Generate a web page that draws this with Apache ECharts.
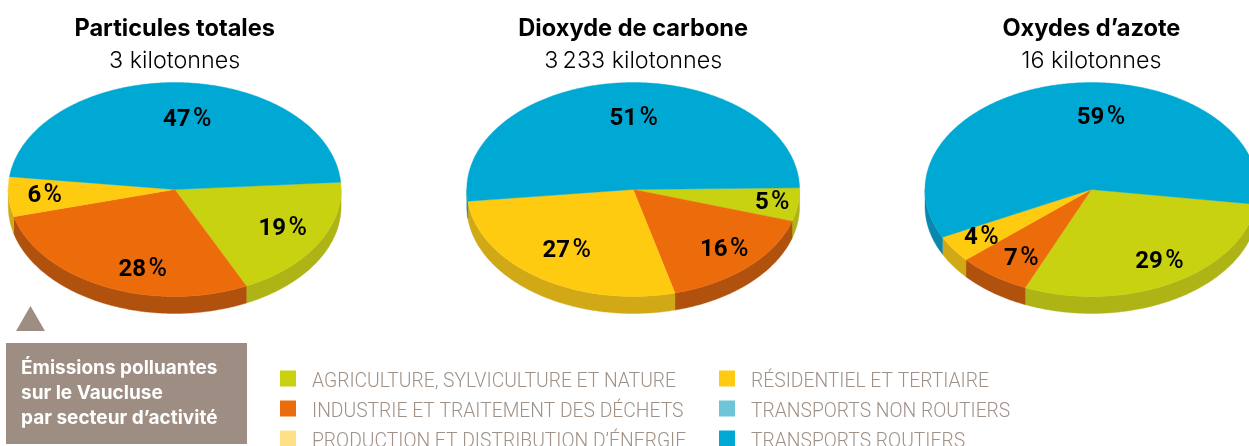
<!DOCTYPE html>
<html lang="fr">
<head>
<meta charset="utf-8">
<style>html,body{margin:0;padding:0;background:#fff}#c{width:1249px;height:446px}</style>
<script src="https://cdn.jsdelivr.net/npm/echarts@6/dist/echarts.min.js"></script>
</head>
<body>
<div id="c"></div>
<script>
// ---- data ----
const pollutants = ['Particules totales', 'Dioxyde de carbone', 'Oxydes d\u2019azote'];
const totals = ['3 kilotonnes', '3\u2009233 kilotonnes', '16 kilotonnes'];
const agriculture = [19, 5, 29];
const industrie = [28, 16, 7];
const production = [0, 0, 0];
const residentiel = [6, 27, 4];
const nonRoutiers = [0, 0, 0];
const routiers = [47, 51, 59];
const categoryNames = [
  'AGRICULTURE, SYLVICULTURE ET NATURE',
  'INDUSTRIE ET TRAITEMENT DES D\u00c9CHETS',
  'PRODUCTION ET DISTRIBUTION D\u2019\u00c9NERGIE',
  'R\u00c9SIDENTIEL ET TERTIAIRE',
  'TRANSPORTS NON ROUTIERS',
  'TRANSPORTS ROUTIERS'
];
const seriesValues = [agriculture, industrie, production, residentiel, nonRoutiers, routiers];

// ---- layout & style ----
const topColors = ['#c8d210', '#ec6b0a', '#ffdf87', '#ffcb11', '#6ec5d8', '#00a9d4'];
const sideColors = ['#aeb316', '#b0510e', '#d4b660', '#d1a815', '#5aa0b0', '#0a88ab'];
const centers = [[174.7, 189.5], [633.2, 189.5], [1091.4, 189.5]];
const startAngles = [3.9, 0.9, -8];
const RX = 166.4, RY = 107, DEPTH = 17;
const labelOffsets = [
  [[108, 39], [-32, 80], null, [-130, 6], null, [12.5, -70]],
  [[139, 13.5], [91, 60], null, [-66.5, 61.5], null, [0.5, -71]],
  [[68, 72.5], [-70, 69.5], null, [-110, 48.5], null, [9.5, -72]]
];

function pt(c, deg, dy) {
  const r = deg * Math.PI / 180;
  return [c[0] + RX * Math.cos(r), c[1] - RY * Math.sin(r) + (dy || 0)];
}
function arc(c, a0, a1, dy) {
  const n = Math.max(2, Math.ceil(Math.abs(a0 - a1) * 2));
  const out = [];
  for (let i = 0; i <= n; i++) out.push(pt(c, a0 + (a1 - a0) * i / n, dy));
  return out;
}
function makeRender(catIdx) {
  return function (params, api) {
    const p = api.value(0), v = api.value(1);
    if (!v) return { type: 'group', children: [] };
    const total = seriesValues.reduce((s, a) => s + a[p], 0);
    let before = 0;
    for (let i = 0; i < catIdx; i++) before += seriesValues[i][p];
    const a0 = startAngles[p] - before / total * 360;
    const a1 = a0 - v / total * 360;
    const c = centers[p];
    const children = [];
    for (let k = -1; k <= 1; k++) {
      const lo = -180 + 360 * k, hi = 360 * k;
      const s = Math.max(a1, lo), e = Math.min(a0, hi);
      if (e > s) {
        const pts = arc(c, e, s, 0).concat(arc(c, s, e, DEPTH));
        children.push({ type: 'polygon', z2: 1, shape: { points: pts },
          style: { fill: sideColors[catIdx], stroke: sideColors[catIdx], lineWidth: 0.4 } });
      }
    }
    children.push({ type: 'polygon', z2: 2, shape: { points: [c].concat(arc(c, a0, a1, 0)) },
      style: { fill: topColors[catIdx], stroke: topColors[catIdx], lineWidth: 0.4 } });
    const off = labelOffsets[p][catIdx];
    children.push({ type: 'text', z2: 3, x: c[0] + off[0], y: c[1] + off[1],
      style: {
        text: '{n|' + v + '}{s|\u2009}{p|%}',
        align: 'center', verticalAlign: 'middle',
        rich: {
          n: { font: 'bold 24px Roboto', fill: '#000' },
          s: { font: '500 12px Roboto', fill: '#000' },
          p: { font: '500 25px Roboto', fill: '#000' }
        }
      } });
    return { type: 'group', children };
  };
}
const legendText = {
  color: '#a09186', fontFamily: 'Roboto', fontSize: 19.3, fontWeight: 300,
  rich: { a: { color: '#a09186', fontFamily: 'Roboto', fontSize: 19.3, fontWeight: 300,
    verticalAlign: 'top', padding: [7, 0, 0, 11] } }
};
const legendCommon = { orient: 'vertical', icon: 'rect', itemWidth: 16, itemHeight: 16, itemGap: 9, height: 110,
  padding: 0, selectedMode: false, textStyle: legendText, formatter: n => '{a|' + n + '}' };

const option = {
  animation: false,
  backgroundColor: '#fff',
  title: pollutants.map((t, i) => ({
    text: t, subtext: totals[i], left: centers[i][0], top: 17, textAlign: 'center', padding: 0, itemGap: 8,
    textStyle: { fontFamily: 'Inter', fontSize: 23.6, fontWeight: 'bold', color: '#000' },
    subtextStyle: { fontFamily: 'Inter', fontSize: 23.3, fontWeight: 300, color: '#000' }
  })),
  legend: [
    Object.assign({}, legendCommon, { left: 280, top: 370.5, data: categoryNames.slice(0, 3) }),
    Object.assign({}, legendCommon, { left: 719, top: 370.5, data: categoryNames.slice(3) })
  ],
  series: categoryNames.map((name, i) => ({
    type: 'custom', name, coordinateSystem: 'none', silent: true,
    itemStyle: { color: topColors[i] },
    renderItem: makeRender(i),
    data: seriesValues[i].map((v, p) => [p, v])
  })),
  graphic: [
    { type: 'polygon', shape: { points: [[16, 331], [30.5, 306], [45, 331]] }, style: { fill: '#9e8d82' } },
    { type: 'rect', shape: { x: 6, y: 343, width: 241, height: 101 }, style: { fill: '#9e8d82' } },
    { type: 'text', x: 21, y: 368, style: { text: '\u00c9missions polluantes', fill: '#fff', font: 'bold 19px Inter', verticalAlign: 'middle' } },
    { type: 'text', x: 21, y: 393, style: { text: 'sur le Vaucluse', fill: '#fff', font: 'bold 19px Inter', verticalAlign: 'middle' } },
    { type: 'text', x: 21, y: 418.5, style: { text: 'par secteur d\u2019activit\u00e9', fill: '#fff', font: 'bold 19px Inter', verticalAlign: 'middle' } }
  ]
};
const chart = echarts.init(document.getElementById('c'), null, { renderer: 'canvas' });
chart.setOption(option);
</script>
</body>
</html>
